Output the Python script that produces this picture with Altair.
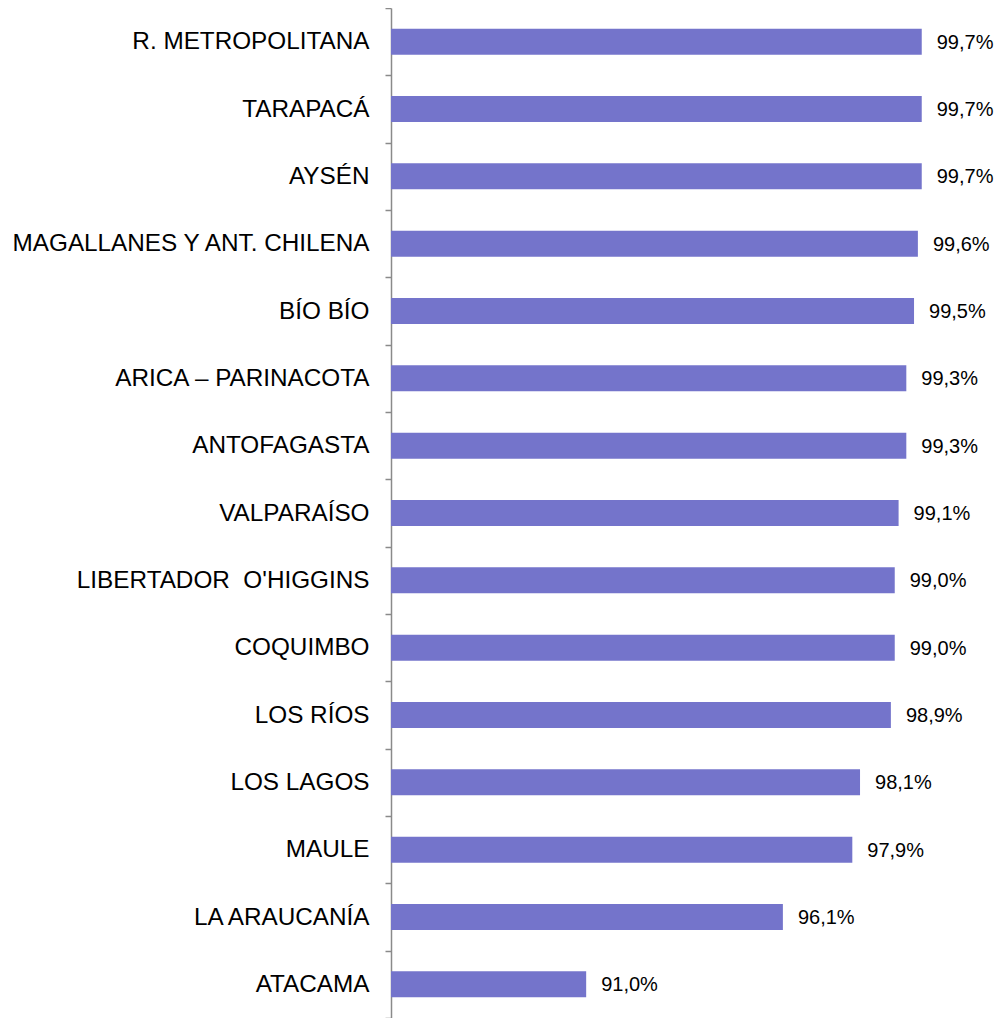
import altair as alt
import pandas as pd

regions = [
    "R. METROPOLITANA", "TARAPACÁ", "AYSÉN", "MAGALLANES Y ANT. CHILENA",
    "BÍO BÍO", "ARICA – PARINACOTA", "ANTOFAGASTA", "VALPARAÍSO",
    "LIBERTADOR\u00a0 O'HIGGINS", "COQUIMBO", "LOS RÍOS", "LOS LAGOS",
    "MAULE", "LA ARAUCANÍA", "ATACAMA",
]
values = [99.7, 99.7, 99.7, 99.6, 99.5, 99.3, 99.3, 99.1, 99.0, 99.0,
          98.9, 98.1, 97.9, 96.1, 91.0]
AXIS_MIN = 85.94
AXIS_MAX = 99.94

df = pd.DataFrame({"region": regions, "value": values})

FONT = "Liberation Sans"
BAR_COLOR = "#7474CB"

y_enc = alt.Y(
    "region:N",
    sort=regions,
    scale=alt.Scale(paddingInner=0, paddingOuter=0),
    axis=alt.Axis(
        title=None,
        domainColor="#8a8a8a",
        domainWidth=1.5,
        tickColor="#8a8a8a",
        tickWidth=1.5,
        tickSize=6,
        tickBand="extent",
        labelPadding=16,
        labelFont=FONT,
        labelFontSize=24.3,
        labelColor="#000000",
        labelLimit=0,
        grid=False,
    ),
)

x_scale = alt.Scale(domain=[AXIS_MIN, AXIS_MAX], zero=False, nice=False)

bars = alt.Chart(df).mark_bar(color=BAR_COLOR, size=26).encode(
    y=y_enc,
    x=alt.X("value:Q", scale=x_scale, axis=None),
    x2=alt.datum(AXIS_MIN),
)

labels = alt.Chart(df).transform_calculate(
    label="replace(format(datum.value, '.1f'), '.', ',') + '%'"
).mark_text(
    align="left", baseline="middle", dx=15, dy=1, font=FONT, fontSize=20, color="#000000"
).encode(
    y=alt.Y("region:N", sort=regions),
    x=alt.X("value:Q", scale=x_scale, axis=None),
    text="label:N",
)

chart = (
    (bars + labels)
    .properties(
        width=540,
        height=1010,
        autosize=alt.AutoSizeParams(type="none"),
        padding={"left": 383, "top": 0, "right": 63, "bottom": 0},
    )
    .configure(background="white")
    .configure_view(stroke=None, strokeWidth=0)
)

chart.save("out.html", embed_options={"renderer": "svg", "actions": False})
